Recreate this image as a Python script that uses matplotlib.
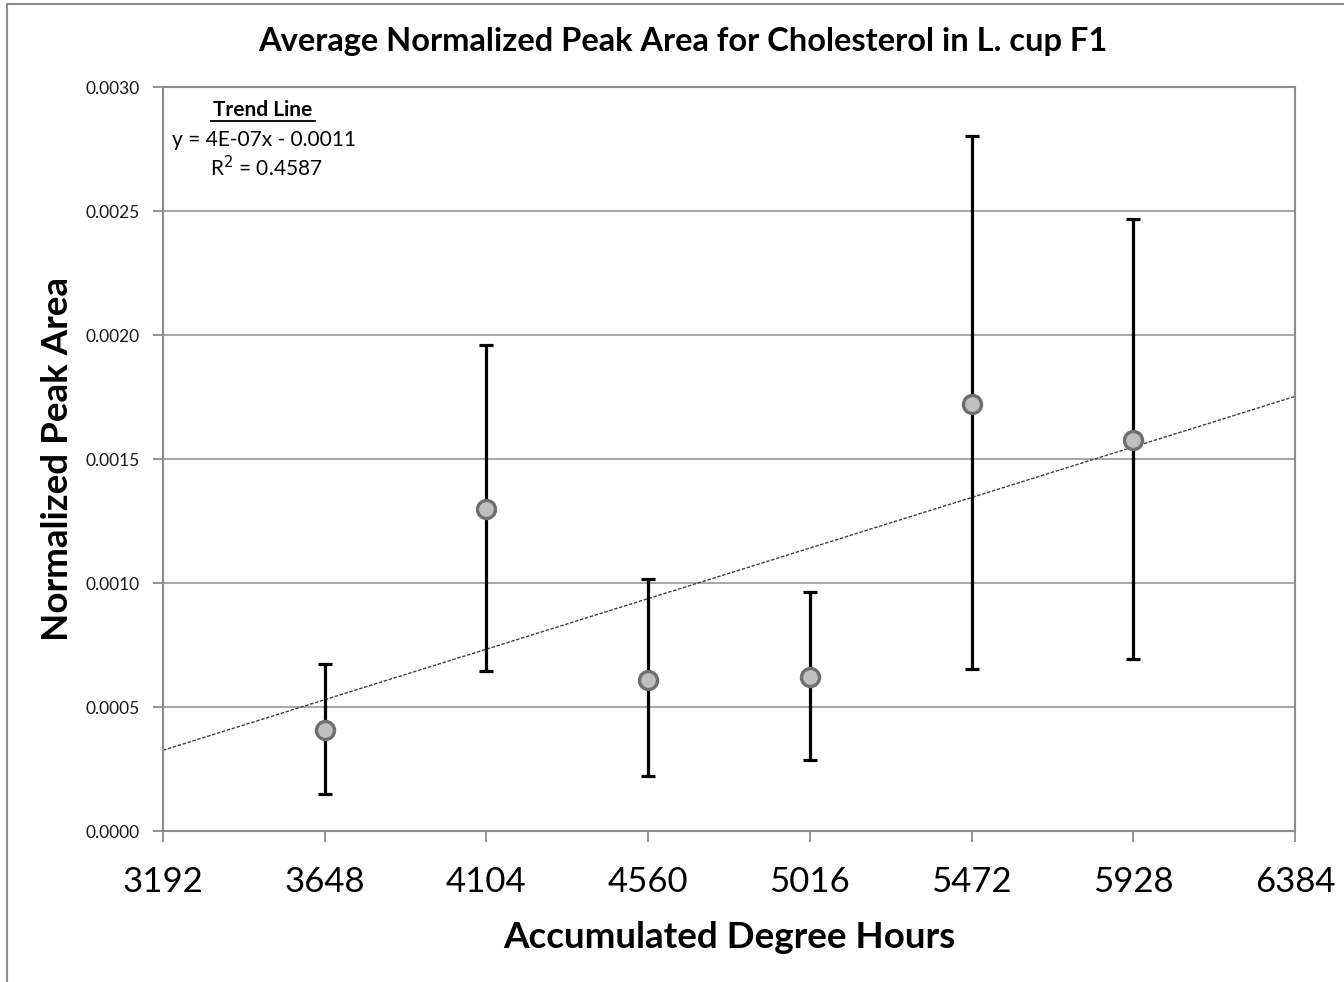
import matplotlib
matplotlib.use("Agg")
import matplotlib.pyplot as plt
import numpy as np
from matplotlib.patches import Rectangle

# Data
hours = [3648, 4104, 4560, 5016, 5472, 5928]
mean_area = [0.000407, 0.001298, 0.000609, 0.000621, 0.001722, 0.001577]
err_upper = [0.000673, 0.001960, 0.001016, 0.000964, 0.002802, 0.002468]
err_lower = [0.000149, 0.000645, 0.000222, 0.000286, 0.000653, 0.000694]
x_ticks = [3192, 3648, 4104, 4560, 5016, 5472, 5928, 6384]
y_ticks = [0.0, 0.0005, 0.0010, 0.0015, 0.0020, 0.0025, 0.0030]

title = "Average Normalized Peak Area for Cholesterol in L. cup F1"
xlabel = "Accumulated Degree Hours"
ylabel = "Normalized Peak Area"

FONT = ["Lato", "DejaVu Sans"]
plt.rcParams['font.family'] = FONT

fig = plt.figure(figsize=(13.44, 9.82), dpi=100)
ax = fig.add_axes([163/1344, 1-831/982, (1295-163)/1344, (831-87)/982])

# Figure border
fig.patches.append(Rectangle((7/1344, -0.1), 1.2, 1 - 3.5/982 + 0.1, transform=fig.transFigure,
                             fill=False, edgecolor="#8c8c8c", linewidth=1.5))

x = np.array(hours, dtype=float)
y = np.array(mean_area)
lo = y - np.array(err_lower)
hi = np.array(err_upper) - y

# Gridlines
ax.set_axisbelow(True)
ax.yaxis.grid(True, color="#a0a0a0", linewidth=1.3)

# Trend line
slope, intercept = np.polyfit(x, y, 1)
xt = np.array([x_ticks[0], x_ticks[-1]], dtype=float)
ax.plot(xt, slope*xt + intercept, color="#404040", linewidth=1.0, linestyle=(0, (2.5, 1.2)), zorder=2)

# Error bars
ax.errorbar(x, y, yerr=[lo, hi], fmt='none', ecolor="black", elinewidth=2.3,
            capsize=5, capthick=2.3, zorder=3)
ax.plot(x, y, linestyle='none', marker='o', markersize=13, markerfacecolor="#bfbfbf",
        markeredgecolor="#6e6e6e", markeredgewidth=2.4, zorder=4)

ax.set_xlim(x_ticks[0], x_ticks[-1])
ax.set_ylim(y_ticks[0], y_ticks[-1])
ax.set_xticks(x_ticks)
ax.set_xticklabels([str(v) for v in x_ticks], fontsize=25)
ax.set_yticks(y_ticks)
ax.set_yticklabels([f"{v:.4f}" for v in y_ticks], fontsize=12.5, color="#1a1a1a")

for s in ax.spines.values():
    s.set_color("#8c8c8c")
    s.set_linewidth(1.5)
ax.tick_params(axis='both', direction='out', color="#8c8c8c", width=1.3)
ax.tick_params(axis='y', length=7, pad=10)
ax.tick_params(axis='x', length=8, pad=17)

ax.set_xlabel(xlabel, fontsize=26.5, fontweight='bold', labelpad=17)
ax.set_ylabel(ylabel, fontsize=26.5, fontweight='bold', labelpad=8)
fig.text((257+1108)/2/1344, 1-42/982, title, fontsize=23.5, fontweight='bold', ha='center', va='center')

# Trend line annotation
ax.text(263/1344, 1-110/982, "Trend Line", transform=fig.transFigure, fontsize=15,
        fontweight='bold', ha='center', va='center')
ax.plot([211/1344, 315/1344], [1-121/982, 1-121/982], transform=fig.transFigure,
        color="black", linewidth=1.3, clip_on=False)
ax.text(172/1344, 1-140/982, "y = 4E-07x - 0.0011", transform=fig.transFigure, fontsize=15,
        ha='left', va='center')
ax.text(210/1344, 1-168/982, "R$^2$ = 0.4587", transform=fig.transFigure, fontsize=15,
        ha='left', va='center')

fig.savefig("out.png", dpi=100, facecolor="white")
